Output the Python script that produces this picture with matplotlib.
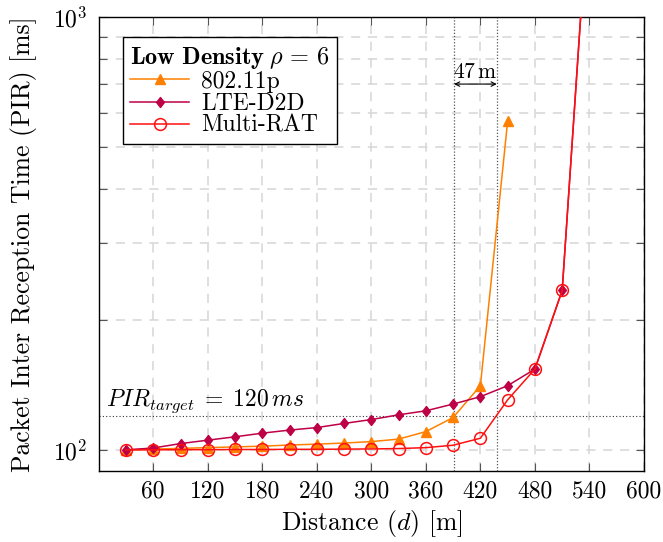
import matplotlib
matplotlib.use("Agg")
import matplotlib.pyplot as plt
import numpy as np
from matplotlib.path import Path
from matplotlib.ticker import FixedLocator, NullFormatter

plt.rcParams.update({
    "font.family": "cmr10",
    "mathtext.fontset": "cm",
    "axes.unicode_minus": False,
    "axes.formatter.use_mathtext": True,
    "font.size": 17,
})

# Inter-vehicle distance (m)
dist_wifi = [30, 60, 90, 120, 150, 180, 210, 240, 270, 300, 330, 360, 390, 420, 450]
dist_d2d = [30, 60, 90, 120, 150, 180, 210, 240, 270, 300, 330, 360, 390, 420, 450, 480, 510, 540]

# Packet inter reception time (ms)
pir_80211p = [100.0, 100.4, 100.8, 101.2, 101.6, 102.0, 102.6, 103.1, 103.7, 104.5,
              105.9, 110.2, 118.8, 140.7, 575.0]
pir_lte_d2d = [100.0, 101.0, 103.4, 105.3, 107.2, 109.3, 111.1, 112.6, 115.1, 117.5,
               120.5, 123.1, 127.6, 132.7, 140.7, 153.7, 233.5, 2000.0]
pir_multirat = [100.0, 100.0, 100.1, 100.1, 100.2, 100.2, 100.3, 100.3, 100.4, 100.5,
                100.7, 101.2, 102.5, 106.4, 130.5, 153.7, 233.5, 2000.0]

pir_target = 120
range_gap = [391, 438]
gap_label = r"$47\,\mathrm{m}$"

x_ticks = [60, 120, 180, 240, 300, 360, 420, 480, 540, 600]
y_ticks = [100, 1000]
y_tick_labels = [r"$10^2$", r"$10^3$"]

c_wifi = "#FF8000"
c_d2d = "#BE0046"
c_mrat = "#FF1010"

# diamond a bit narrower than tall
diamond = Path([(0, 1), (0.78, 0), (0, -1), (-0.78, 0), (0, 1)],
               [Path.MOVETO, Path.LINETO, Path.LINETO, Path.LINETO, Path.CLOSEPOLY])

fig = plt.figure(figsize=(6.63, 5.42), dpi=100)
ax = fig.add_axes([0.1489, 0.1315, 0.8224, 0.8371])

ax.set_yscale("log")
ax.set_xlim(0, 600)
ax.set_ylim(89.5, 1000)

# grid
ax.set_axisbelow(True)
ax.xaxis.set_major_locator(FixedLocator(x_ticks))
ax.set_xticklabels([str(t) for t in x_ticks])
ax.yaxis.set_major_locator(FixedLocator(y_ticks))
ax.set_yticklabels(y_tick_labels)
ax.yaxis.set_minor_locator(FixedLocator([200, 300, 400, 500, 600, 700, 800, 900]))
ax.yaxis.set_minor_formatter(NullFormatter())
ax.xaxis.set_minor_locator(FixedLocator([]))
grid_kw = dict(color="#D6D6D6", linestyle=(0, (6, 5)), linewidth=1.1)
ax.grid(True, which="major", axis="both", **grid_kw)
ax.grid(True, which="minor", axis="y", **grid_kw)

ax.tick_params(which="both", direction="in", top=True, right=True, color="#555555")
ax.tick_params(which="major", length=6, width=0.8)
ax.tick_params(which="minor", length=6, width=0.8)
ax.tick_params(axis="x", pad=7, labelsize=17)
ax.tick_params(axis="y", pad=8, labelsize=17)
for s in ax.spines.values():
    s.set_linewidth(1.0)
    s.set_color("black")

# reference lines
ax.axhline(pir_target, color="#333333", linestyle=(0, (1, 2)), linewidth=0.8, zorder=2)
for xv in range_gap:
    ax.axvline(xv, color="#555555", linestyle=(0, (1, 1.5)), linewidth=0.9, zorder=2)
ax.annotate("", xy=(range_gap[0], 700), xytext=(range_gap[1], 700),
            arrowprops=dict(arrowstyle="<->", color="black", lw=0.8,
                            shrinkA=0, shrinkB=0, mutation_scale=8), zorder=5)
ax.text(sum(range_gap) / 2, 723, gap_label, ha="center", va="baseline", fontsize=15.5)
ax.text(8, 126, r"$PIR_{target}\;=\;120\,ms$", ha="left", va="baseline", fontsize=17)

# series
ax.plot(dist_wifi, pir_80211p, color=c_wifi, lw=1.1, marker="^", ms=7.5,
        markeredgecolor=c_wifi, markerfacecolor=c_wifi, label="802.11p", zorder=3)
ax.plot(dist_d2d, pir_lte_d2d, color=c_d2d, lw=1.1, marker=diamond, ms=7.2,
        markeredgecolor=c_d2d, markerfacecolor=c_d2d, label="LTE-D2D", zorder=4)
ax.plot(dist_d2d, pir_multirat, color=c_mrat, lw=1.1, marker="o", ms=8.5,
        markeredgecolor=c_mrat, markerfacecolor="none", markeredgewidth=1.1,
        label="Multi-RAT", zorder=5)

ax.set_xlabel(r"Distance $(d)$ [m]", fontsize=18.5, labelpad=4)
ax.set_ylabel("Packet Inter Reception Time (PIR) [ms]", fontsize=18.5, labelpad=12)

leg = ax.legend(loc="upper left", bbox_to_anchor=(0.045, 0.955), borderaxespad=0,
                title=r"$\mathbf{Low\ Density}\;\rho\,=\,6$", title_fontsize=17.5,
                fontsize=17, frameon=True, fancybox=False, edgecolor="black",
                framealpha=1, handlelength=2.5, labelspacing=0.0, handletextpad=0.5,
                borderpad=0.3, alignment="left")
leg.get_frame().set_linewidth(1.0)
leg.set_zorder(10)

fig.savefig("out.png", dpi=100)
